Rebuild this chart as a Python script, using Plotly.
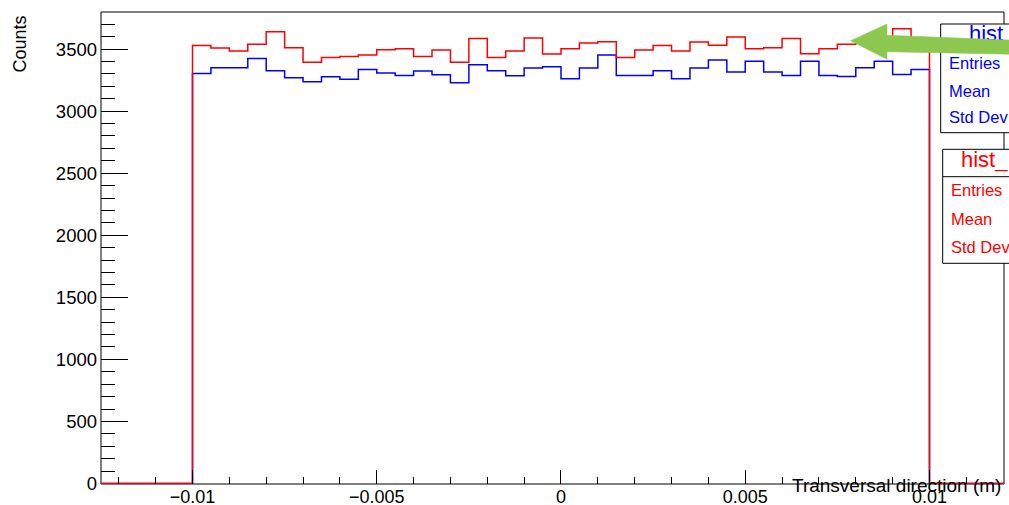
import numpy as np
import plotly.graph_objects as go

# ---------------- data ----------------
bin_lo, bin_hi, n_bins = -0.01, 0.01, 40
red_counts = [3530, 3508, 3484, 3540, 3640, 3510, 3395, 3433, 3441, 3452,
              3495, 3503, 3441, 3492, 3395, 3586, 3433, 3484, 3589, 3460,
              3503, 3549, 3559, 3433, 3492, 3530, 3484, 3557, 3532, 3597,
              3503, 3511, 3586, 3463, 3503, 3540, 3560, 3590, 3664, 3565]
blue_counts = [3304, 3350, 3350, 3425, 3326, 3269, 3237, 3277, 3258, 3336,
               3307, 3288, 3323, 3293, 3229, 3374, 3326, 3285, 3347, 3358,
               3261, 3347, 3452, 3288, 3288, 3326, 3261, 3347, 3412, 3315,
               3403, 3315, 3288, 3403, 3288, 3280, 3350, 3403, 3296, 3336]
x_range = [-0.012483, 0.012022]
y_range = [-4, 3799]
stat_labels = ["Entries", "Mean", "Std Dev"]
blue_title = "hist"
red_title = "hist_"
x_title = "Transversal direction (m)"
y_title = "Counts"

# ---------------- geometry helpers ----------------
W, H = 1009, 505
ML, MR, MT, MB = 101, 5, 12, 21
PW, PH = W - ML - MR, H - MT - MB

def px(xp):
    return (xp - ML) / PW

def py(yp):
    return (H - MB - yp) / PH

def dx(xp):
    return x_range[0] + (xp - ML) / PW * (x_range[1] - x_range[0])

def dy(yp):
    return y_range[0] + (H - MB - yp) / PH * (y_range[1] - y_range[0])

FONT = "Liberation Sans, Arial, Helvetica, sans-serif"

edges = np.linspace(bin_lo, bin_hi, n_bins + 1)

def step_xy(counts):
    xs = [x_range[0]] + list(edges) + [x_range[1]]
    ys = [0] + list(counts) + [0, 0]
    return xs, ys

fig = go.Figure()
for counts, col in [(blue_counts, "#0000ff"), (red_counts, "#ff0000")]:
    xs, ys = step_xy(counts)
    fig.add_trace(go.Scatter(x=xs, y=ys, mode="lines", line=dict(color=col, width=1.5, shape="hv"),
                             showlegend=False, hoverinfo="skip", cliponaxis=False))

# stats text (as traces so the arrow shape can sit above)
def add_text(x, ys, texts, color, size):
    fig.add_trace(go.Scatter(x=[dx(x)] * len(ys), y=[dy(v) for v in ys], mode="text", text=texts,
                             textposition="middle right", cliponaxis=False,
                             textfont=dict(color=color, size=size, family=FONT),
                             showlegend=False, hoverinfo="skip"))

add_text(949, [65, 92.5, 119], stat_labels, "#0000ff", 16.5)
add_text(951, [192, 220.5, 248.5], stat_labels, "#ff0000", 16.5)
add_text(969, [35], [blue_title], "#0000ff", 22)
add_text(961, [161.5], [red_title], "#ff0000", 22)

shapes = []
# frame
shapes.append(dict(type="rect", xref="paper", yref="paper", x0=0, x1=1, y0=0, y1=1,
                   line=dict(color="black", width=1), fillcolor="rgba(0,0,0,0)", layer="below"))
# stats boxes
for (x0, y0, y1, ysep) in [(940.7, 24, 132.7, 51), (942.7, 149.3, 263.3, 176.7)]:
    shapes.append(dict(type="rect", xref="paper", yref="paper", x0=px(x0), x1=px(1030),
                       y0=py(y1), y1=py(y0), line=dict(color="black", width=1),
                       fillcolor="white", layer="below"))
    shapes.append(dict(type="line", xref="paper", yref="paper", x0=px(x0), x1=px(1030),
                       y0=py(ysep), y1=py(ysep), line=dict(color="black", width=1), layer="below"))
# green arrow
arrow_pts = [(850.5, 40.7), (887, 24), (887, 35.2), (1015, 40.3), (1015, 54.3), (887, 51.7), (887, 59.3)]
path = "M " + " L ".join(f"{px(a):.5f},{py(b):.5f}" for a, b in arrow_pts) + " Z"
shapes.append(dict(type="path", xref="paper", yref="paper", path=path,
                   fillcolor="#8cc850", line=dict(color="#8cc850", width=0.5), layer="above"))

annotations = [
    dict(text=y_title, xref="paper", yref="paper", x=px(20), y=py(14), xanchor="center",
         yanchor="top", textangle=-90, showarrow=False, font=dict(size=18, color="black", family=FONT)),
    dict(text=x_title, xref="paper", yref="paper", x=px(1003), y=py(485.5), xanchor="right",
         yanchor="middle", showarrow=False, font=dict(size=19, color="black", family=FONT)),
]

fig.update_layout(
    template="none",
    width=W, height=H, autosize=False,
    margin=dict(l=ML, r=MR, t=MT, b=MB, pad=0, autoexpand=False),
    paper_bgcolor="white", plot_bgcolor="white",
    shapes=shapes, annotations=annotations,
    font=dict(family=FONT, color="black"),
    xaxis=dict(range=x_range, showgrid=False, zeroline=False, showline=False, automargin=False,
               ticks="inside", ticklen=14, tickwidth=1, tickcolor="black",
               tick0=0, dtick=0.005, tickfont=dict(size=18, color="black"),
               minor=dict(ticks="inside", ticklen=7, dtick=0.001, tick0=0, tickcolor="black", tickwidth=1),
               fixedrange=True),
    yaxis=dict(range=y_range, showgrid=False, zeroline=False, showline=False, automargin=False,
               ticks="inside", ticklen=27, tickwidth=1, tickcolor="black", ticklabelstandoff=3,
               tick0=0, dtick=500, tickfont=dict(size=18.5, color="black"),
               minor=dict(ticks="inside", ticklen=14, dtick=100, tick0=0, tickcolor="black", tickwidth=1),
               fixedrange=True),
)

fig.write_html("out.html")
